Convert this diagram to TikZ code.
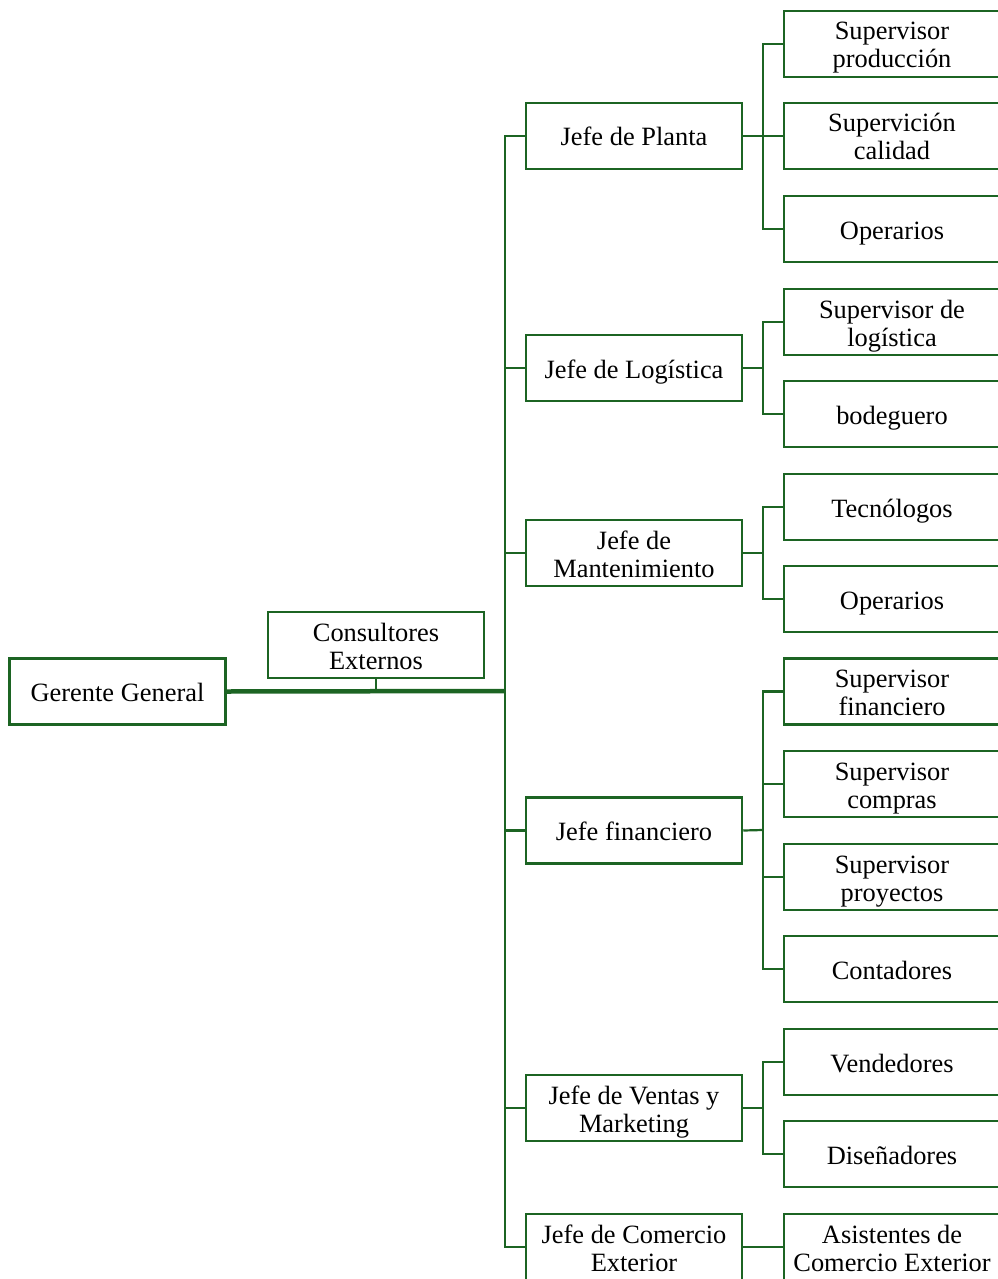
\documentclass[tikz,border=0pt]{standalone}
\usepackage{fontspec}
\setmainfont{Liberation Serif}
\definecolor{og}{RGB}{28,100,35}
\newcommand{\bxt}[1]{\raisebox{-4.4pt}[\height][\depth]{\begin{tabular}{@{}c@{}}#1\end{tabular}}}
\tikzset{
  box/.style={draw=og, line width=2.5pt, fill=white, minimum width=216pt, minimum height=66pt, inner sep=1pt, font=\fontsize{26.4}{28}\selectfont},
  conn/.style={draw=og, line width=2.2pt},
  mainconn/.style={draw=og, line width=4.5pt}
}
\begin{document}
\begin{tikzpicture}[x=1pt,y=-1pt]
\useasboundingbox (0,0) rectangle (998,1279);
\clip (0,0) rectangle (998,1279);
% junction coordinates
\coordinate (T) at (505,691);
\coordinate (C) at (376,691);
\coordinate (s1) at (763,136);
\coordinate (s2) at (763,368);
\coordinate (s3) at (763,553);
\coordinate (s4) at (763,830);
\coordinate (s5) at (763,1108);
% nodes
\node[box] (g) at (117.5,691.5) {\bxt{Gerente General}};
\node[box] (c) at (376,645) {\bxt{Consultores\\Externos}};
\node[box] (j1) at (634,136) {\bxt{Jefe de Planta}};
\node[box] (j2) at (634,368) {\bxt{Jefe de Logística}};
\node[box] (j3) at (634,553) {\bxt{Jefe de\\Mantenimiento}};
\node[box] (j4) at (634,830.5) {\bxt{Jefe financiero}};
\node[box] (j5) at (634,1108) {\bxt{Jefe de Ventas y\\Marketing}};
\node[box] (j6) at (634,1247) {\bxt{Jefe de Comercio\\Exterior}};
\node[box] (a1) at (892,44) {\bxt{Supervisor\\producción}};
\node[box] (a2) at (892,136) {\bxt{Supervición\\calidad}};
\node[box] (a3) at (892,229) {\bxt{Operarios}};
\node[box] (b1) at (892,322) {\bxt{Supervisor de\\logística}};
\node[box] (b2) at (892,414) {\bxt{bodeguero}};
\node[box] (m1) at (892,507) {\bxt{Tecnólogos}};
\node[box] (m2) at (892,599) {\bxt{Operarios}};
\node[box] (f1) at (892,691.5) {\bxt{Supervisor\\financiero}};
\node[box] (f2) at (892,784) {\bxt{Supervisor\\compras}};
\node[box] (f3) at (892,877) {\bxt{Supervisor\\proyectos}};
\node[box] (f4) at (892,969) {\bxt{Contadores}};
\node[box] (v1) at (892,1062) {\bxt{Vendedores}};
\node[box] (v2) at (892,1154) {\bxt{Diseñadores}};
\node[box] (e1) at (892,1247) {\bxt{Asistentes de\\Comercio Exterior}};
% connectors
\draw[mainconn] (g.east) -- (T);
\draw[conn] (c.south) -- (C);
\draw[conn] (T) |- (j1.west);
\draw[conn] (T) |- (j2.west);
\draw[conn] (T) |- (j3.west);
\draw[conn] (T) |- (j4.west);
\draw[conn] (T) |- (j5.west);
\draw[conn] (T) |- (j6.west);
\draw[conn] (j1.east) -- (s1);
\draw[conn] (s1) |- (a1.west);
\draw[conn] (s1) |- (a2.west);
\draw[conn] (s1) |- (a3.west);
\draw[conn] (j2.east) -- (s2);
\draw[conn] (s2) |- (b1.west);
\draw[conn] (s2) |- (b2.west);
\draw[conn] (j3.east) -- (s3);
\draw[conn] (s3) |- (m1.west);
\draw[conn] (s3) |- (m2.west);
\draw[conn] (j4.east) -- (s4);
\draw[conn] (s4) |- (f1.west);
\draw[conn] (s4) |- (f2.west);
\draw[conn] (s4) |- (f3.west);
\draw[conn] (s4) |- (f4.west);
\draw[conn] (j5.east) -- (s5);
\draw[conn] (s5) |- (v1.west);
\draw[conn] (s5) |- (v2.west);
\draw[conn] (j6.east) -- (e1.west);
\end{tikzpicture}
\end{document}
